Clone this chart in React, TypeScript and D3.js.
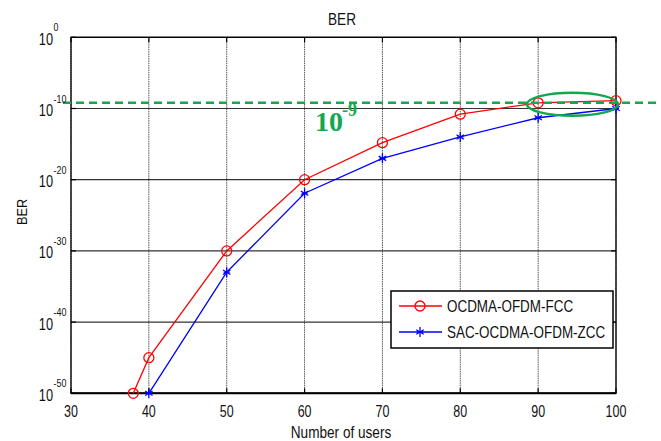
import React from "react";
import * as d3 from "d3";

const users = [38, 40, 50, 60, 70, 80, 90, 100];
const berFccExp = [-50, -45, -30, -20, -14.8, -10.8, -9.2, -8.9];
const usersZcc = [40, 50, 60, 70, 80, 90, 100];
const berZccExp = [-50, -33, -21.9, -17, -14, -11.3, -10];
const xTicks = [30, 40, 50, 60, 70, 80, 90, 100];
const yTickExps = [0, -10, -20, -30, -40, -50];
const thresholdExp = -9.2;
const seriesNames = ["OCDMA-OFDM-FCC", "SAC-OCDMA-OFDM-ZCC"];

const W = 661;
const H = 441;
const L = 71, R = 616, T = 37.3, B = 393.3;

const x = d3.scaleLinear().domain([30, 100]).range([L, R]);
const y = d3.scaleLog().domain([1e-50, 1]).range([B, T]);
const p10 = (e: number) => Math.pow(10, e);

const SANS = "Arial, 'Liberation Sans', sans-serif";
const GREEN = "#12a84e";

function SText({ x: tx, y: ty, sx = 0.82, size = 16, anchor = "start", children, fill = "#111", rotate = 0, weight = "normal", family = SANS }: any) {
  return (
    <text
      transform={`translate(${tx},${ty}) rotate(${rotate}) scale(${sx},1)`}
      fontSize={size}
      fontFamily={family}
      textAnchor={anchor}
      fill={fill}
      fontWeight={weight}
    >
      {children}
    </text>
  );
}

function Star({ cx, cy }: { cx: number; cy: number }) {
  const r = 5;
  const d = r * 0.75;
  return (
    <g stroke="#0000ff" strokeWidth={1.3}>
      <line x1={cx} y1={cy - r} x2={cx} y2={cy + r} />
      <line x1={cx - d} y1={cy - d * 0.6} x2={cx + d} y2={cy + d * 0.6} />
      <line x1={cx - d} y1={cy + d * 0.6} x2={cx + d} y2={cy - d * 0.6} />
      <line x1={cx - r * 0.6} y1={cy} x2={cx + r * 0.6} y2={cy} />
    </g>
  );
}

export default function App() {
  const lineGen = d3
    .line<[number, number]>()
    .x((d) => x(d[0]))
    .y((d) => y(d[1]));
  const fccPts: [number, number][] = users.map((u, i) => [u, p10(berFccExp[i])]);
  const zccPts: [number, number][] = usersZcc.map((u, i) => [u, p10(berZccExp[i])]);
  const yThr = y(p10(thresholdExp));

  const legX = 391, legY = 291, legW = 222, legH = 57;

  return (
    <svg width={W} height={H} style={{ position: "absolute", left: 0, top: 0, background: "#fff" }}>
      <rect x={0} y={0} width={W} height={H} fill="#fff" />
      {/* grid */}
      {xTicks.map((t) => (
        <line key={"gx" + t} x1={x(t)} x2={x(t)} y1={T} y2={B} stroke="#555" strokeWidth={1} strokeDasharray="1.5,0.8" />
      ))}
      {yTickExps.map((e) => (
        <line key={"gy" + e} x1={L} x2={R} y1={y(p10(e))} y2={y(p10(e))} stroke="#333" strokeWidth={1.2} />
      ))}
      {/* ticks */}
      {xTicks.map((t) => (
        <g key={"tx" + t}>
          <line x1={x(t)} x2={x(t)} y1={B} y2={B - 5} stroke="#000" strokeWidth={1.2} />
          <line x1={x(t)} x2={x(t)} y1={T} y2={T + 5} stroke="#000" strokeWidth={1.2} />
        </g>
      ))}
      {yTickExps.map((e) => (
        <g key={"ty" + e}>
          <line x1={L} x2={L + 5} y1={y(p10(e))} y2={y(p10(e))} stroke="#000" strokeWidth={1.2} />
          <line x1={R} x2={R - 5} y1={y(p10(e))} y2={y(p10(e))} stroke="#000" strokeWidth={1.2} />
        </g>
      ))}
      {/* axes box */}
      <rect x={L} y={T} width={R - L} height={B - T} fill="none" stroke="#000" strokeWidth={1.3} />
      <line x1={L} x2={R} y1={B} y2={B} stroke="#000" strokeWidth={2} />

      {/* series */}
      <path d={lineGen(fccPts) || ""} fill="none" stroke="#ff0000" strokeWidth={1.3} />
      <path d={lineGen(zccPts) || ""} fill="none" stroke="#0000ff" strokeWidth={1.3} />
      {fccPts.map((p, i) => (
        <circle key={"c" + i} cx={x(p[0])} cy={y(p[1])} r={5} fill="none" stroke="#ff0000" strokeWidth={1.3} />
      ))}
      {zccPts.map((p, i) => (
        <Star key={"s" + i} cx={x(p[0])} cy={y(p[1])} />
      ))}

      {/* threshold */}
      <line x1={63} x2={W} y1={yThr} y2={yThr} stroke={GREEN} strokeWidth={2.5} strokeDasharray="8,5" />
      <ellipse cx={x(94.4)} cy={y(p10(-9.4))} rx={45.5} ry={11.5} fill="none" stroke={GREEN} strokeWidth={2.5} />
      <text x={315} y={131} fontFamily="'Liberation Serif', 'Times New Roman', serif" fontWeight="bold" fontSize={28} fill={GREEN}>
        10
      </text>
      <text x={342} y={116} fontFamily="'Liberation Serif', 'Times New Roman', serif" fontWeight="bold" fontSize={18} fill={GREEN}>
        -9
      </text>

      {/* x tick labels */}
      {xTicks.map((t) => (
        <SText key={"xl" + t} x={x(t)} y={417} anchor="middle" sx={0.78}>
          {t}
        </SText>
      ))}
      {/* y tick labels */}
      {yTickExps.map((e) => {
        const yy = y(p10(e));
        return (
          <g key={"yl" + e}>
            <SText x={53} y={yy + 7.5} anchor="end" sx={0.8}>
              10
            </SText>
            <SText x={53.5} y={yy - 6} size={10.5} sx={0.85}>
              {String(e)}
            </SText>
          </g>
        );
      })}

      {/* titles */}
      <SText x={342} y={25} anchor="middle" sx={0.85} size={16}>
        BER
      </SText>
      <SText x={341} y={438} anchor="middle" sx={0.85} size={16}>
        Number of users
      </SText>
      <SText x={26.5} y={212} anchor="middle" sx={0.85} size={15} rotate={-90}>
        BER
      </SText>

      {/* legend */}
      <rect x={legX} y={legY} width={legW} height={legH} fill="#fff" stroke="#000" strokeWidth={1.5} />
      <line x1={399} x2={442} y1={306} y2={306} stroke="#ff0000" strokeWidth={1.3} />
      <circle cx={420} cy={306} r={5} fill="none" stroke="#ff0000" strokeWidth={1.3} />
      <SText x={447} y={312} sx={0.84}>
        {seriesNames[0]}
      </SText>
      <line x1={399} x2={442} y1={332} y2={332} stroke="#0000ff" strokeWidth={1.3} />
      <Star cx={420} cy={332} />
      <SText x={447} y={338} sx={0.84}>
        {seriesNames[1]}
      </SText>
    </svg>
  );
}
